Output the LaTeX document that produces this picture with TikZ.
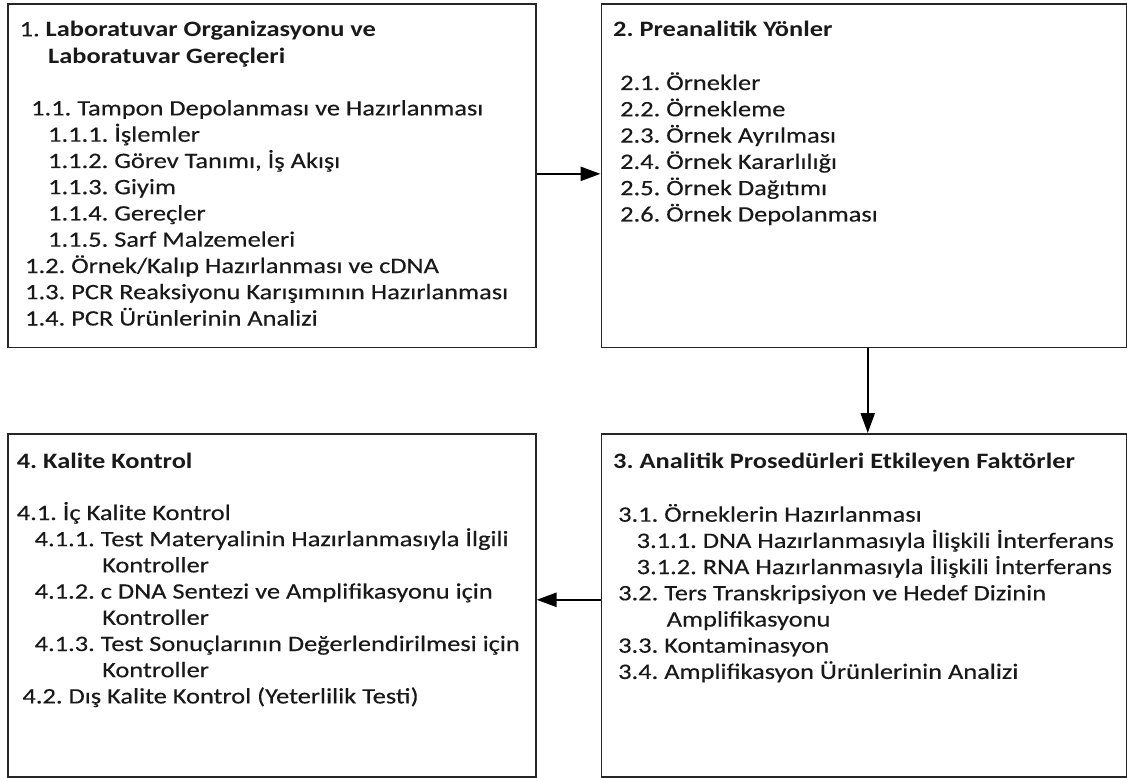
\documentclass[tikz,border=0pt]{standalone}
\usepackage{fontspec}
\setmainfont[FakeStretch=1.2, UprightFeatures={FakeBold=0.35}]{Carlito}
\usetikzlibrary{arrows.meta}
\frenchspacing
\tikzset{
  box/.style={draw=black!85, line width=1.6pt, rectangle, inner sep=0pt, anchor=north west},
  txt/.style={anchor=base west, inner sep=0pt, text=black!90, font=\fontsize{22}{26}\selectfont},
  ttl/.style={txt, font=\fontsize{22}{26}\selectfont\bfseries},
  arr/.style={draw=black, line width=2.4pt, -{Triangle[length=20pt,width=14pt]}}
}
\begin{document}
\begin{tikzpicture}[x=1pt,y=-1pt]
\useasboundingbox (0,0) rectangle (1127,778);
% boxes
\node[box, minimum width=528pt, minimum height=343.7pt] (b1) at (7,3) {};
\node[box, minimum width=525.5pt, minimum height=343.7pt] (b2) at (600.5,3) {};
\node[box, minimum width=525.5pt, minimum height=343pt] (b3) at (600.5,433) {};
\node[box, minimum width=528pt, minimum height=343pt] (b4) at (7,433) {};
% box 1
\node[txt] (t1a) at (19.5,36.3) {1. \textbf{Laboratuvar Organizasyonu ve}};
\node[ttl] (t1b) at (48,63.7) {Laboratuvar Gereçleri};
\node[txt] (t1c) at (31,115.4) {1.1. Tampon Depolanması ve Hazırlanması};
\node[txt] (t1d) at (48,141.7) {1.1.1. İşlemler};
\node[txt] (t1e) at (48,168) {1.1.2. Görev Tanımı, İş Akışı};
\node[txt] (t1f) at (48,194.2) {1.1.3. Giyim};
\node[txt] (t1g) at (48,220.5) {1.1.4. Gereçler};
\node[txt] (t1h) at (48,246.7) {1.1.5. Sarf Malzemeleri};
\node[txt] (t1i) at (25,273) {1.2. Örnek/Kalıp Hazırlanması ve cDNA};
\node[txt] (t1j) at (25,299.2) {1.3. PCR Reaksiyonu Karışımının Hazırlanması};
\node[txt] (t1k) at (25,325.5) {1.4. PCR Ürünlerinin Analizi};
% box 2
\node[ttl] (t2a) at (613,36.7) {2. Preanalitik Yönler};
\node[txt] (t2b) at (620,90) {2.1. Örnekler};
\node[txt] (t2c) at (620,116.3) {2.2. Örnekleme};
\node[txt] (t2d) at (620,142.6) {2.3. Örnek Ayrılması};
\node[txt] (t2e) at (620,168.9) {2.4. Örnek Kararlılığı};
\node[txt] (t2f) at (620,195.2) {2.5. Örnek Dağıtımı};
\node[txt] (t2g) at (620,221.5) {2.6. Örnek Depolanması};
% box 3
\node[ttl] (t3a) at (613,468.3) {3. Analitik Prosedürleri Etkileyen Faktörler};
\node[txt] (t3b) at (618,521.7) {3.1. Örneklerin Hazırlanması};
\node[txt] (t3c) at (636.5,547.9) {3.1.1. DNA Hazırlanmasıyla İlişkili İnterferans};
\node[txt] (t3d) at (636.5,574.1) {3.1.2. RNA Hazırlanmasıyla İlişkili İnterferans};
\node[txt] (t3e) at (618,600.3) {3.2. Ters Transkripsiyon ve Hedef Dizinin};
\node[txt] (t3f) at (666.5,626.5) {Amplifikasyonu};
\node[txt] (t3g) at (618,652.7) {3.3. Kontaminasyon};
\node[txt] (t3h) at (618,678.9) {3.4. Amplifikasyon Ürünlerinin Analizi};
% box 4
\node[ttl] (t4a) at (16.6,468.3) {4. Kalite Kontrol};
\node[txt] (t4b) at (16.6,520) {4.1. İç Kalite Kontrol};
\node[txt] (t4c) at (34.5,546.2) {4.1.1. Test Materyalinin Hazırlanmasıyla İlgili};
\node[txt] (t4d) at (102,572.4) {Kontroller};
\node[txt] (t4e) at (34.5,598.6) {4.1.2. c DNA Sentezi ve Amplifikasyonu için};
\node[txt] (t4f) at (102,624.8) {Kontroller};
\node[txt] (t4g) at (34.5,651) {4.1.3. Test Sonuçlarının Değerlendirilmesi için};
\node[txt] (t4h) at (102,677.2) {Kontroller};
\node[txt] (t4i) at (22.3,703.4) {4.2. Dış Kalite Kontrol (Yeterlilik Testi)};
% arrows
\draw[arr] ([yshift=1.8pt]b1.east) coordinate (p1) -- (p1 -| b2.west);
\draw[arr] ([xshift=3.7pt]b2.south) coordinate (p2) -- (p2 |- b3.north);
\draw[arr] ([yshift=5.5pt]b3.west) coordinate (p3) -- (p3 -| b4.east);
\end{tikzpicture}
\end{document}
